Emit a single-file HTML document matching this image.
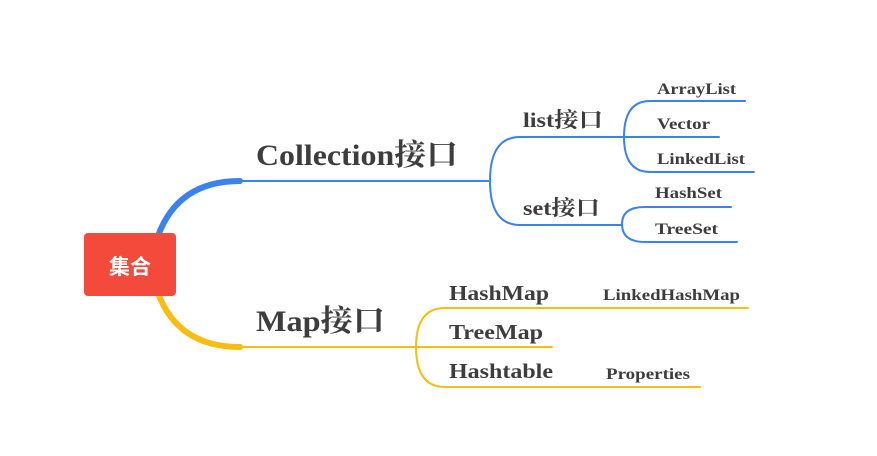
<!DOCTYPE html>
<html><head><meta charset="utf-8"><style>
html,body{margin:0;padding:0;background:#fff;}
svg{display:block}
text{font-family:"Liberation Serif","Noto Serif CJK SC",serif;font-weight:bold;fill:#3d3d3d}
</style></head><body>
<svg width="877" height="456" viewBox="0 0 877 456" xmlns="http://www.w3.org/2000/svg">
<g fill="none" stroke-linecap="round">
<path d="M158,236 Q178,181 240,181" stroke="#3b82f0" stroke-width="6"/>
<path d="M158,293 Q178,347 240,347" stroke="#f8bd12" stroke-width="6"/>
<g stroke="#3b82f0" stroke-width="2">
<path d="M235,181 H490"/>
<path d="M623,137 H520 Q490,137 490,181 Q490,225 520,225 H622"/>
<path d="M745,101 H650 Q624,101 624,137 Q624,172 650,172 H754"/>
<path d="M624,137 H719"/>
<path d="M731,207 H645 Q622,207 622,224 Q622,242 645,242 H737"/>
</g>
<g stroke="#f8bd12" stroke-width="2">
<path d="M235,347 H416"/>
<path d="M748,308 H445 Q416,308 416,347 Q416,387 445,387 H700"/>
<path d="M416,347 H552"/>
</g>
</g>
<rect x="84" y="233" width="92" height="63" rx="4" fill="#f44a3c"/>
<text x="130" y="274" text-anchor="middle" style="font-family:'Liberation Sans','Noto Sans CJK SC',sans-serif;fill:#fff;font-size:21px">集合</text>
<text x="256" y="165" font-size="30" textLength="202" lengthAdjust="spacingAndGlyphs">Collection接口</text>
<text x="256" y="331" font-size="30" textLength="129" lengthAdjust="spacingAndGlyphs">Map接口</text>
<text x="523" y="127" font-size="21" textLength="80" lengthAdjust="spacingAndGlyphs">list接口</text>
<text x="523" y="215" font-size="21" textLength="77" lengthAdjust="spacingAndGlyphs">set接口</text>
<text x="657" y="94" font-size="16" textLength="79" lengthAdjust="spacingAndGlyphs">ArrayList</text>
<text x="657" y="129" font-size="16" textLength="53" lengthAdjust="spacingAndGlyphs">Vector</text>
<text x="657" y="164" font-size="16" textLength="88" lengthAdjust="spacingAndGlyphs">LinkedList</text>
<text x="655" y="198" font-size="16" textLength="67" lengthAdjust="spacingAndGlyphs">HashSet</text>
<text x="655" y="234" font-size="16" textLength="63" lengthAdjust="spacingAndGlyphs">TreeSet</text>
<text x="449" y="300" font-size="21" textLength="100" lengthAdjust="spacingAndGlyphs">HashMap</text>
<text x="449" y="339" font-size="21" textLength="94" lengthAdjust="spacingAndGlyphs">TreeMap</text>
<text x="449" y="378" font-size="21" textLength="104" lengthAdjust="spacingAndGlyphs">Hashtable</text>
<text x="603" y="300" font-size="16" textLength="137" lengthAdjust="spacingAndGlyphs">LinkedHashMap</text>
<text x="606" y="379" font-size="16" textLength="84" lengthAdjust="spacingAndGlyphs">Properties</text>
</svg>
</body></html>
